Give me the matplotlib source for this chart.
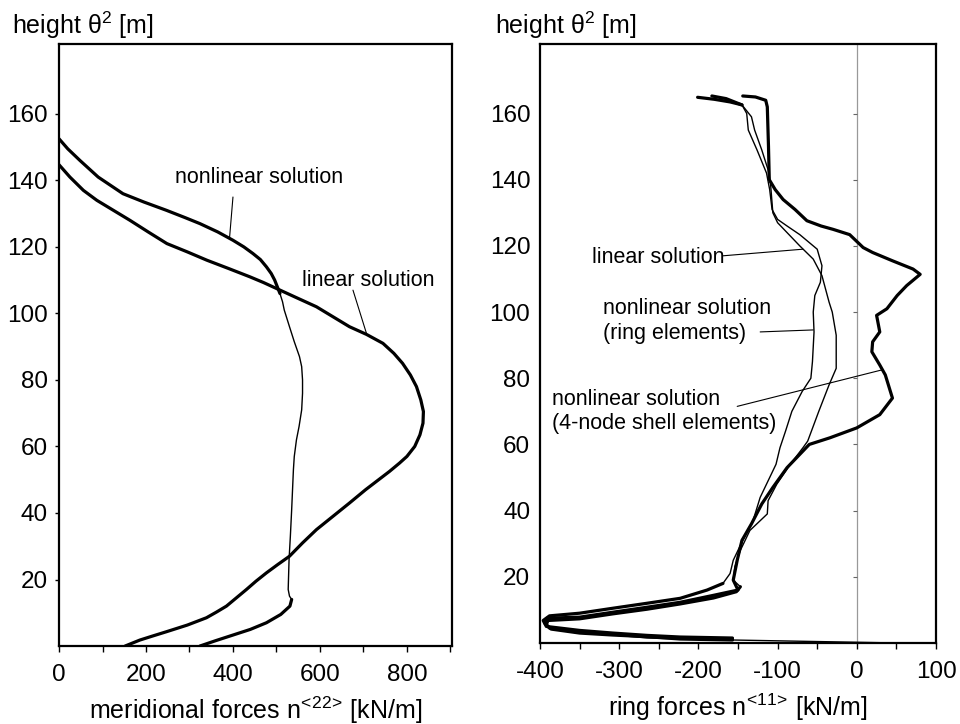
import numpy as np
import matplotlib.pyplot as plt
from matplotlib.ticker import MultipleLocator

plt.rcParams['font.family'] = ['Liberation Sans', 'DejaVu Sans']
plt.rcParams['mathtext.fontset'] = 'custom'
plt.rcParams['mathtext.rm'] = 'Liberation Sans'
plt.rcParams['mathtext.it'] = 'Liberation Sans:italic'
plt.rcParams['mathtext.default'] = 'regular'
plt.rcParams['axes.unicode_minus'] = False

# --- left panel: meridional forces n<22> [kN/m] vs height [m] ---
mer_lin_x = [0, 25, 56, 87, 125, 163, 205, 248, 295, 340, 390, 439, 470, 500, 545,
             592, 630, 668, 707, 745, 770, 790, 808, 822, 832, 838, 837, 830, 818,
             800, 783, 760, 745, 705, 668, 630, 592, 560, 530, 503, 477, 453, 431,
             408, 385, 362, 339, 295, 247, 215, 186, 152]
mer_lin_y = [144.7, 141, 137, 134, 131, 128, 124.5, 121, 118.5, 116, 113.5, 111, 109.3,
             107.5, 104.8, 102, 99, 96, 93.7, 91, 88, 85, 81.5, 78, 74, 70.5, 67, 63.5,
             60, 57, 55, 52.5, 51, 47, 43, 39, 35, 31, 27, 24.5, 22, 19.5, 17,
             14.5, 12, 10.2, 8.5, 6.3, 4.3, 3, 1.8, 0]
mer_nl_x = [0, 20, 48, 90, 147, 195, 247, 290, 324, 365, 400, 425, 446, 463, 477, 488,
            496, 502, 508, 514, 518, 524, 530, 541, 553, 558, 560, 560, 558, 552, 546,
            541, 539, 537, 535, 532, 529, 527, 530, 535, 531, 510, 477, 440, 400, 360,
            324]
mer_nl_y = [152.5, 149.5, 146, 141, 136, 133.5, 131, 128.8, 127, 124.5, 122, 120, 118,
            116.2, 114, 112, 110, 108, 106, 103.5, 101, 98.5, 96, 91.5, 87, 84, 80, 76,
            71, 66, 62, 57, 53, 47, 41, 33, 26, 17, 15, 14, 12, 9.5, 7, 5, 3.3, 1.6, 0]

# --- right panel: ring forces n<11> [kN/m] vs height [m] ---
ring_lin_x = [-183, -165, -145, -133, -129, -120, -112, -109, -106, -100, -88, -72,
              -55, -44, -35, -31, -26, -26, -35, -48, -62, -68, -84, -101, -112, -113,
              -135, -147, -154, -156, -147, -152, -181, -223, -265, -308, -350, -390,
              -392, -386, -350, -308, -265, -223, -157, 50]
ring_lin_y = [165.3, 164.5, 162.6, 159, 155, 149, 143, 139, 130, 127, 124, 120,
              116, 111, 103, 100, 93, 83, 78, 70, 61, 59, 54, 48, 43, 39,
              34, 28, 23, 19, 17, 15.5, 13.6, 11.8, 10.2, 8.8, 7.3, 6.8,
              5.5, 4.2, 3.0, 2.4, 1.9, 1.2, 0.9, 0]
ring_re_x = [-201, -180, -160, -145, -139, -137, -126, -114, -110, -107, -100, -88,
             -72, -50, -44, -46, -53, -55, -54, -56, -58, -69, -82, -90, -97, -102,
             -110, -122, -131, -144, -156, -160, -169, -189, -223, -265, -308, -350,
             -388, -396, -392, -350, -308, -265, -223, -157]
ring_re_y = [164.9, 164.3, 163.5, 162.6, 160, 155, 149, 142, 137, 131, 128, 126,
             123.4, 119, 114, 109, 105, 100, 94, 85, 80, 76, 70, 64, 59, 54,
             50, 44, 37, 31, 25, 21, 18, 16, 13.5, 12, 10.5, 9,
             8.2, 6.8, 5, 3.8, 3, 2.3, 1.8, 1.5]
ring_sh_x = [-144, -128, -115, -113, -111.5, -110.5, -103, -93, -78, -63, -45, -30, -9,
             8, 20, 45, 71, 80, 63, 51, 38, 25, 29, 20, 19, 29, 36, 45, 29, 0, -34,
             -60, -72, -88, -106, -120, -133, -145, -151, -156, -150, -181, -223,
             -265, -308, -350, -391, -394, -388, -350, -308, -265, -223, -157]
ring_sh_y = [165.3, 165, 164, 162, 150, 140, 137, 134, 131, 127.6, 126, 125, 123.4,
             119.5, 118, 115.5, 113, 111.4, 108, 105, 101, 99, 94, 91, 88, 84, 81, 74,
             69, 65, 62, 60, 57, 53, 47, 42, 36, 31, 25, 19, 16, 14.4, 12.3,
             10.8, 9.3, 7.8, 7.5, 6, 4.5, 3.3, 2.7, 1.8, 1.5, 1.2]

THICK = 2.3
THIN = 1.0


def draw(ax, x, y, lw, thick_mask=None):
    x = np.asarray(x, float)
    y = np.asarray(y, float)
    ax.plot(x, y, color='k', lw=lw, solid_joinstyle='round', solid_capstyle='round')
    if thick_mask is not None:
        # the thicker stretches of a curve, drawn over the thin line
        m = thick_mask(x, y)
        idx = np.where(m)[0]
        runs = np.split(idx, np.where(np.diff(idx) != 1)[0] + 1)
        for r in runs:
            if len(r) > 1:
                ax.plot(x[r], y[r], color='k', lw=THICK,
                        solid_joinstyle='round', solid_capstyle='round')


def style(ax):
    for s in ax.spines.values():
        s.set_linewidth(1.6)
    ax.set_ylim(0, 181)
    ax.set_yticks([20, 40, 60, 80, 100, 120, 140, 160])
    ax.tick_params(axis='both', labelsize=17.5, width=1.0, length=4, direction='out')
    ax.tick_params(axis='x', which='minor', width=1.0, length=4, direction='out')
    ax.tick_params(axis='x', pad=9)


fig = plt.figure(figsize=(9.6, 7.24), dpi=100)

# left panel
ax1 = fig.add_axes([0.0615, 0.1077, 0.409, 0.8315])
draw(ax1, mer_lin_x, mer_lin_y, THICK)
draw(ax1, mer_nl_x, mer_nl_y, THIN, lambda x, y: (y >= 106) | (y <= 14))
ax1.set_xlim(0, 903)
ax1.xaxis.set_major_locator(MultipleLocator(200))
ax1.xaxis.set_minor_locator(MultipleLocator(100))
style(ax1)
ax1.tick_params(axis='y', length=3, pad=5)
ax1.set_xlabel(r'meridional forces n$^{\!<\!22\!>\!}$ [kN/m]', fontsize=18, labelpad=6)

ax1.text(266, 140.8, 'nonlinear solution', fontsize=15.5, va='center', ha='left')
ax1.annotate('', xy=(392, 122.5), xytext=(400, 135),
             arrowprops=dict(arrowstyle='-', lw=0.8, shrinkA=0, shrinkB=0))
ax1.text(558, 110, 'linear solution', fontsize=15.5, va='center', ha='left')
ax1.annotate('', xy=(707, 94), xytext=(676, 107),
             arrowprops=dict(arrowstyle='-', lw=0.8, shrinkA=0, shrinkB=0))

# right panel
ax2 = fig.add_axes([0.5625, 0.1119, 0.4125, 0.8273])
yt = [20, 40, 60, 80, 100, 120, 140, 160]
ax2.axvline(0, color='0.6', lw=0.9, zorder=0)
ax2.plot(np.zeros(len(yt)), yt, ls='none', marker=0, ms=3, mew=0.8, color='0.4', zorder=0)
draw(ax2, ring_sh_x, ring_sh_y, THICK)
draw(ax2, ring_re_x, ring_re_y, THIN, lambda x, y: (y >= 162.6) | (y <= 18))
draw(ax2, ring_lin_x, ring_lin_y, THIN, lambda x, y: (y >= 162.6) | ((y <= 17) & (x < 0)))
ax2.set_xlim(-400, 100)
ax2.xaxis.set_major_locator(MultipleLocator(100))
ax2.xaxis.set_minor_locator(MultipleLocator(50))
style(ax2)
ax2.tick_params(axis='y', length=0, pad=7)
ax2.set_xlabel(r'ring forces n$^{\!<\!11\!>\!}$ [kN/m]', fontsize=18, labelpad=6)

ax2.text(-334, 116.5, 'linear solution', fontsize=15.5, va='center', ha='left')
ax2.annotate('', xy=(-68, 119), xytext=(-169, 117),
             arrowprops=dict(arrowstyle='-', lw=0.8, shrinkA=0, shrinkB=0))
ax2.text(-320, 97.3, 'nonlinear solution\n(ring elements)', fontsize=15.5,
         va='center', ha='left')
ax2.annotate('', xy=(-55, 94.6), xytext=(-122, 94),
             arrowprops=dict(arrowstyle='-', lw=0.8, shrinkA=0, shrinkB=0))
ax2.text(-385, 70, 'nonlinear solution\n(4-node shell elements)', fontsize=15.5,
         va='center', ha='left')
ax2.annotate('', xy=(33, 82.6), xytext=(-151, 71.5),
             arrowprops=dict(arrowstyle='-', lw=0.8, shrinkA=0, shrinkB=0))

fig.text(12 / 960, 1 - 25 / 724, 'height θ$^2$ [m]', fontsize=18, va='center', ha='left')
fig.text(495 / 960, 1 - 25 / 724, 'height θ$^2$ [m]', fontsize=18, va='center', ha='left')

fig.savefig('out.png', dpi=100)
